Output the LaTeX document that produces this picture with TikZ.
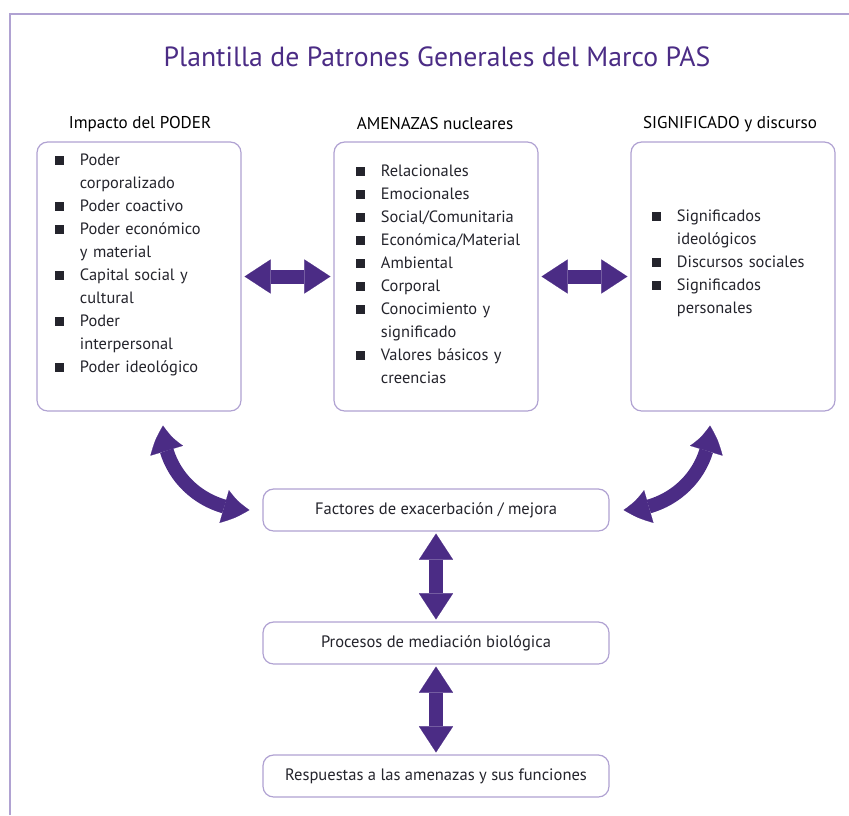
\documentclass[tikz,border=0pt]{standalone}
\usepackage{fontspec}
\setmainfont{PT Sans}
\usepackage{tikz}
\usetikzlibrary{arrows.meta,bending,positioning,calc}

\definecolor{morado}{HTML}{4B2C85}
\definecolor{lila}{HTML}{B0A2D2}
\definecolor{texto}{HTML}{24242C}

\newenvironment{paslista}{%
  \begin{list}{\raisebox{0.3pt}{\rule{6.5pt}{6.5pt}}}{%
    \setlength{\leftmargin}{18.5pt}\setlength{\labelwidth}{6.5pt}%
    \setlength{\labelsep}{12pt}\setlength{\itemsep}{0pt}%
    \setlength{\parsep}{0pt}\setlength{\topsep}{0pt}\setlength{\partopsep}{0pt}}}%
  {\end{list}}

\tikzset{
  caja/.style={draw=lila, line width=0.9pt, rounded corners=8pt, fill=white},
  panel/.style={caja, minimum width=153pt, minimum height=201.75pt},
  barra/.style={caja, minimum width=259.5pt, minimum height=31.5pt,
    font=\fontsize{12.4}{14}\selectfont, text=texto},
  lista/.style={anchor=north west, inner sep=0pt, text width=150pt, align=left,
    font=\fontsize{12.3}{17.25}\selectfont, text=texto},
  encabezado/.style={font=\fontsize{12.8}{15}\selectfont},
  flecha/.style={morado, line width=10.5pt, {Triangle[width=25.5pt,length=19.5pt,line width=0.1pt]}-{Triangle[width=25.5pt,length=19.5pt,line width=0.1pt]}},
  flechacurva/.style={morado, line width=10.5pt, {Triangle[width=25.5pt,length=19.5pt,line width=0.1pt,bend]}-{Triangle[width=25.5pt,length=19.5pt,line width=0.1pt,bend]}},
}

\begin{document}
\begin{tikzpicture}[x=0.75pt,y=-0.75pt]
  \useasboundingbox (0,0) rectangle (849,815); % tamaño de la imagen
  \draw[lila, line width=1.5pt] (10,815) -- (10,14) -- (849,14); % marco superior e izquierdo

  \node[font=\fontsize{20.8}{25}\selectfont, text=morado] (titulo) at (437,57)
    {Plantilla de Patrones Generales del Marco PAS}; % título

  % encabezados de las tres columnas
  \node[encabezado] (hpoder) at (140,124) {Impacto del PODER};
  \node[encabezado] (hamenazas) at (435,124) {AMENAZAS nucleares};
  \node[encabezado] (hsignificado) at (730,124) {SIGNIFICADO y discurso};

  % cajas superiores
  \node[panel] (poder) at (139,276.5) {};
  \node[panel] (amenazas) at (436,276.5) {};
  \node[panel] (significado) at (733,276.5) {};

  \node[lista] (lpoder) at (55,142) {\begin{paslista}
    \item Poder\\corporalizado
    \item Poder coactivo
    \item Poder económico\\y material
    \item Capital social y\\cultural
    \item Poder\\interpersonal
    \item Poder ideológico
  \end{paslista}};
  \node[lista] (lamenazas) at (356,153) {\begin{paslista}
    \item Relacionales
    \item Emocionales
    \item Social/Comunitaria
    \item Económica/Material
    \item Ambiental
    \item Corporal
    \item Conocimiento y\\significado
    \item Valores básicos y\\creencias
  \end{paslista}};
  \node[lista] (lsignificado) at (652,198) {\begin{paslista}
    \item Significados\\ideológicos
    \item Discursos sociales
    \item Significados\\personales
  \end{paslista}};

  % cajas inferiores
  \node[barra] (factores) at (436,510) {Factores de exacerbación / mejora};
  \node[barra] (procesos) at (436,643) {Procesos de mediación biológica};
  \node[barra] (respuestas) at (436,776) {Respuestas a las amenazas y sus funciones};

  % flechas dobles
  \draw[flecha, shorten <=2.25pt, shorten >=2.25pt] (poder.east) -- (amenazas.west);
  \draw[flecha, shorten <=2.25pt, shorten >=2.25pt] (amenazas.east) -- (significado.west);
  \draw[flecha, shorten <=1.5pt, shorten >=1.5pt] (factores.south) -- (procesos.north);
  \draw[flecha, shorten <=1.5pt, shorten >=1.5pt] (procesos.south) -- (respuestas.north);
  \draw[flechacurva] ($(poder.south)+(24,14)$) .. controls +(0,48) and +(-48,0) .. ($(factores.west)+(-13,0)$); % arco izquierdo
  \draw[flechacurva] ($(significado.south)+(-23,14)$) .. controls +(0,48) and +(48,0) .. ($(factores.east)+(14,0)$); % arco derecho
\end{tikzpicture}
\end{document}
